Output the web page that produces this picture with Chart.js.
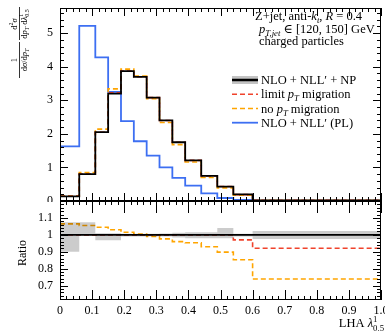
<!DOCTYPE html>
<html>
<head>
<meta charset="utf-8">
<script src="https://cdn.jsdelivr.net/npm/chart.js@4"></script>
<style>
  html, body { margin: 0; padding: 0; background: #fff; }
  #wrap { position: relative; width: 385px; height: 332px; overflow: hidden; }
  #top { position: absolute; left: 0; top: 0; width: 385px; height: 202px; }
  #bot { position: absolute; left: 0; top: 200px; width: 385px; height: 132px; }
</style>
</head>
<body>
<div id="wrap">
  <div id="top"><canvas id="main"></canvas></div>
  <div id="bot"><canvas id="ratio"></canvas></div>
</div>
<script>
// bin edges of LHA lambda^1_0.5
const binEdges = [0, 0.06, 0.11, 0.15, 0.19, 0.23, 0.27, 0.31, 0.35, 0.39, 0.44, 0.49, 0.54, 0.6, 1.0];

// main panel, normalised distributions
const nloNllNp = [0.14, 0.80, 2.05, 3.20, 3.87, 3.70, 3.08, 2.40, 1.75, 1.21, 0.75, 0.43, 0.20, 0.02];
const limitPtMig = [0.14, 0.80, 2.05, 3.22, 3.87, 3.70, 3.08, 2.40, 1.75, 1.21, 0.75, 0.43, 0.19, 0.018];
const noPtMig = [0.15, 0.85, 2.14, 3.34, 3.93, 3.72, 3.05, 2.34, 1.68, 1.16, 0.70, 0.39, 0.17, 0.015];
const nloNllPL = [1.63, 5.22, 4.28, 3.25, 2.38, 1.78, 1.35, 1.00, 0.69, 0.46, 0.23, 0.09, 0.03, 0.005];

// ratio panel
const ratioNominal = [1, 1, 1, 1, 1, 1, 1, 1, 1, 1, 1, 1, 1, 1];
const ratioBandHi = [1.075, 1.075, 1.01, 1.01, 1.006, 1.006, 1.006, 1.008, 1.012, 1.015, 1.015, 1.04, 1.006, 1.022];
const ratioBandLo = [0.9, 0.995, 0.968, 0.968, 0.99, 0.99, 0.99, 0.99, 0.985, 0.98, 0.98, 0.98, 0.99, 0.976];
const ratioLimit = [1, 1, 1, 1, 1, 1, 1, 1, 1, 1, 1, 1, 0.97, 0.921];
const ratioNoMig = [1.065, 1.055, 1.045, 1.03, 1.015, 1.005, 0.99, 0.976, 0.96, 0.953, 0.93, 0.898, 0.853, 0.739];

// axis ticks
const xTicks = [0, 0.1, 0.2, 0.3, 0.4, 0.5, 0.6, 0.7, 0.8, 0.9, 1];
const mainYTicks = [0, 1, 2, 3, 4, 5];
const ratioYTicks = [0.7, 0.8, 0.9, 1, 1.1];

const SERIF = '"Liberation Serif", "DejaVu Serif", serif';
const BLACK = "#000000";
const RED = "#f0432c";
const ORANGE = "#ffa500";
const BLUE = "#3d6ff2";

// histogram -> points for a stepped line
function stepPoints(vals) {
  const pts = vals.map((v, i) => ({ x: binEdges[i], y: v }));
  pts.push({ x: binEdges[binEdges.length - 1], y: vals[vals.length - 1] });
  return pts;
}

function fontFor(p, size) {
  return (p.i ? "italic " : "") + size + "px " + SERIF;
}

// rich text: parts = [{t, i, s:'sub'|'sup'}] or {stack, sup, sub}
function richWidth(ctx, parts, size) {
  let w = 0;
  parts.forEach((p) => {
    if (p.stack) {
      ctx.font = fontFor({}, size * 0.7);
      w += Math.max(ctx.measureText(p.sup).width, ctx.measureText(p.sub).width);
    } else {
      const sz = p.s ? size * 0.7 : size;
      ctx.font = fontFor(p, sz);
      w += ctx.measureText(p.t).width;
    }
  });
  return w;
}

function drawRich(ctx, parts, x, y, size, align) {
  const w = richWidth(ctx, parts, size);
  let cx = align === "center" ? x - w / 2 : align === "right" ? x - w : x;
  ctx.textAlign = "left";
  ctx.textBaseline = "alphabetic";
  parts.forEach((p) => {
    if (p.stack) {
      ctx.font = fontFor({}, size * 0.7);
      ctx.fillText(p.sup, cx, y - size * 0.42);
      ctx.fillText(p.sub, cx, y + size * 0.28);
      cx += Math.max(ctx.measureText(p.sup).width, ctx.measureText(p.sub).width);
    } else {
      const sz = p.s ? size * 0.7 : size;
      const dy = p.s === "sub" ? size * 0.25 : p.s === "sup" ? -size * 0.4 : 0;
      ctx.font = fontFor(p, sz);
      ctx.fillText(p.t, cx, y + dy);
      cx += ctx.measureText(p.t).width;
    }
  });
}

// inward tick marks and frame
function drawFrameTicks(chart, t) {
  const ctx = chart.ctx;
  const a = chart.chartArea;
  const xs = chart.scales.x;
  const ys = chart.scales.y;
  ctx.save();
  ctx.strokeStyle = "#000";
  ctx.lineWidth = 1;
  ctx.beginPath();
  const nx = Math.round((xs.max - xs.min) / t.xMinor);
  for (let k = 0; k <= nx; k++) {
    const v = xs.min + k * t.xMinor;
    const major = k % Math.round(t.xMajor / t.xMinor) === 0;
    const px = Math.round(xs.getPixelForValue(v)) + 0.5;
    const lt = major ? t.xTopMajor : t.xTopMinor;
    const lb = major ? t.xBotMajor : t.xBotMinor;
    ctx.moveTo(px, a.top); ctx.lineTo(px, a.top + lt);
    ctx.moveTo(px, a.bottom); ctx.lineTo(px, a.bottom - lb);
  }
  const start = Math.ceil((ys.min - 1e-9) / t.yMinor);
  const end = Math.floor((ys.max + 1e-9) / t.yMinor);
  const per = Math.round(t.yMajor / t.yMinor);
  for (let k = start; k <= end; k++) {
    const v = k * t.yMinor;
    const major = ((k % per) + per) % per === 0;
    const py = Math.round(ys.getPixelForValue(v)) + 0.5;
    const l = major ? t.yMajorLen : t.yMinorLen;
    ctx.moveTo(a.left, py); ctx.lineTo(a.left + l, py);
    ctx.moveTo(a.right, py); ctx.lineTo(a.right - l, py);
  }
  ctx.stroke();
  ctx.strokeRect(a.left + 0.5, a.top + 0.5, a.right - a.left - 1, a.bottom - a.top - 1);
  ctx.restore();
}

const mainDecor = {
  id: "mainDecor",
  afterDatasetsDraw(chart) {
    drawFrameTicks(chart, {
      xMinor: 0.02, xMajor: 0.1, xTopMajor: 8, xTopMinor: 4, xBotMajor: 8, xBotMinor: 4,
      yMinor: 0.2, yMajor: 1, yMajorLen: 8, yMinorLen: 4
    });
    const ctx = chart.ctx;
    ctx.save();
    ctx.fillStyle = "#000";
    // annotation
    drawRich(ctx, [{ t: "Z+jet, anti-" }, { t: "k", i: true }, { t: "t", i: true, s: "sub" },
      { t: ", " }, { t: "R", i: true }, { t: " = 0.4" }], 255, 20, 12.5, "left");
    drawRich(ctx, [{ t: "p", i: true }, { t: "T,jet", i: true, s: "sub" },
      { t: " \u2208 [120, 150] GeV" }], 259, 32.5, 12.5, "left");
    drawRich(ctx, [{ t: "charged particles" }], 259, 44.5, 12.5, "left");

    // legend
    const lx0 = 232, lx1 = 258, tx = 261;
    const rows = [80, 94.3, 108.5, 122.7];
    ctx.fillStyle = "#c4c4c4";
    ctx.fillRect(lx0, rows[0] - 4, lx1 - lx0, 8);
    const entries = [
      { c: BLACK, d: [], w: 2.5, parts: [{ t: "NLO + NLL\u2032 + NP" }] },
      { c: RED, d: [5, 3], w: 1.6, parts: [{ t: "limit " }, { t: "p", i: true }, { t: "T", i: true, s: "sub" }, { t: " migration" }] },
      { c: ORANGE, d: [5, 3], w: 1.6, parts: [{ t: "no " }, { t: "p", i: true }, { t: "T", i: true, s: "sub" }, { t: " migration" }] },
      { c: BLUE, d: [], w: 1.8, parts: [{ t: "NLO + NLL\u2032 (PL)" }] }
    ];
    entries.forEach((e, i) => {
      ctx.strokeStyle = e.c;
      ctx.lineWidth = e.w;
      ctx.setLineDash(e.d);
      ctx.beginPath();
      ctx.moveTo(lx0, rows[i]);
      ctx.lineTo(lx1, rows[i]);
      ctx.stroke();
      ctx.setLineDash([]);
      ctx.fillStyle = "#000";
      drawRich(ctx, e.parts, tx, rows[i] + 4, 12.5, "left");
    });

    // y axis title, rotated
    ctx.rotate(-Math.PI / 2);
    const fs = 8.5;
    drawRich(ctx, [{ t: "1" }], -60, 16.5, fs, "center");
    drawRich(ctx, [{ t: "d" }, { t: "\u03c3", i: true }, { t: "/d" }, { t: "p", i: true }, { t: "T", i: true, s: "sub" }], -60, 27, fs, "center");
    drawRich(ctx, [{ t: "d" }, { t: "2", s: "sup" }, { t: "\u03c3", i: true }], -24, 16.5, fs, "center");
    drawRich(ctx, [{ t: "d" }, { t: "p", i: true }, { t: "T", i: true, s: "sub" }, { t: " d" },
      { t: "\u03bb", i: true }, { stack: true, sup: "1", sub: "0.5" }], -24, 27, fs, "center");
    ctx.strokeStyle = "#000";
    ctx.lineWidth = 0.8;
    ctx.beginPath();
    ctx.moveTo(-78, 19.5); ctx.lineTo(-42, 19.5);
    ctx.moveTo(-40, 19.5); ctx.lineTo(-7, 19.5);
    ctx.stroke();
    ctx.restore();
  }
};

const ratioDecor = {
  id: "ratioDecor",
  afterDatasetsDraw(chart) {
    drawFrameTicks(chart, {
      xMinor: 0.02, xMajor: 0.1, xTopMajor: 12, xTopMinor: 4, xBotMajor: 10, xBotMinor: 4,
      yMinor: 0.02, yMajor: 0.1, yMajorLen: 8, yMinorLen: 4
    });
    const ctx = chart.ctx;
    ctx.save();
    ctx.fillStyle = "#000";
    drawRich(ctx, [{ t: "LHA " }, { t: "\u03bb", i: true }, { stack: true, sup: "1", sub: "0.5" }], 384, 127, 12.5, "right");
    ctx.translate(26, 53);
    ctx.rotate(-Math.PI / 2);
    drawRich(ctx, [{ t: "Ratio" }], 0, 0, 12, "center");
    ctx.restore();
  }
};

function noPad(scale) {
  scale.paddingTop = 0;
  scale.paddingBottom = 0;
  scale.paddingLeft = 0;
  scale.paddingRight = 0;
}

function yAxis(min, max, ticks) {
  return {
    type: "linear",
    min: min,
    max: max,
    afterFit(scale) { scale.width = 60; noPad(scale); },
    afterBuildTicks(scale) { scale.ticks = ticks.map((v) => ({ value: v })); },
    grid: { display: false, drawTicks: false },
    border: { display: false },
    ticks: {
      padding: 7,
      color: "#000",
      font: { family: SERIF, size: 12 },
      callback: (v) => String(Number(v.toFixed(2)))
    }
  };
}

function line(data, color, width, dash) {
  return {
    data: data,
    borderColor: color,
    borderWidth: width,
    borderDash: dash || [],
    stepped: true,
    pointRadius: 0,
    fill: false
  };
}

window.onload = function () {
  new Chart(document.getElementById("main").getContext("2d"), {
    type: "line",
    data: {
      datasets: [
        line(stepPoints(nloNllNp), BLACK, 1.8),
        line(stepPoints(limitPtMig), RED, 1.6, [5, 3]),
        line(stepPoints(noPtMig), ORANGE, 1.6, [5, 3]),
        line(stepPoints(nloNllPL), BLUE, 1.8)
      ]
    },
    options: {
      responsive: true,
      maintainAspectRatio: false,
      animation: false,
      layout: { padding: { top: 8, right: 4, bottom: 1, left: 0 } },
      plugins: { legend: { display: false }, tooltip: { enabled: false } },
      scales: {
        x: { type: "linear", min: 0, max: 1, display: false },
        y: yAxis(0, 5.75, mainYTicks)
      }
    },
    plugins: [mainDecor]
  });

  new Chart(document.getElementById("ratio").getContext("2d"), {
    type: "line",
    data: {
      datasets: [
        { data: stepPoints(ratioBandLo), stepped: true, pointRadius: 0, borderWidth: 0, borderColor: "rgba(0,0,0,0)", fill: false },
        { data: stepPoints(ratioBandHi), stepped: true, pointRadius: 0, borderWidth: 0, borderColor: "rgba(0,0,0,0)", fill: "-1", backgroundColor: "rgba(0,0,0,0.2)" },
        line(stepPoints(ratioNominal), BLACK, 1.8),
        line(stepPoints(ratioLimit), RED, 1.6, [5, 3]),
        line(stepPoints(ratioNoMig), ORANGE, 1.6, [5, 3])
      ]
    },
    options: {
      responsive: true,
      maintainAspectRatio: false,
      animation: false,
      layout: { padding: { top: 1, right: 4, bottom: 0, left: 0 } },
      plugins: { legend: { display: false }, tooltip: { enabled: false } },
      scales: {
        x: {
          type: "linear",
          min: 0,
          max: 1,
          afterFit(scale) { scale.height = 32; noPad(scale); },
          afterBuildTicks(scale) { scale.ticks = xTicks.map((v) => ({ value: v })); },
          grid: { display: false, drawTicks: false },
          border: { display: false },
          ticks: { padding: 4, maxRotation: 0, autoSkip: false, color: "#000", font: { family: SERIF, size: 12 } }
        },
        y: yAxis(0.615, 1.2, ratioYTicks)
      }
    },
    plugins: [ratioDecor]
  });
};
</script>
</body>
</html>
